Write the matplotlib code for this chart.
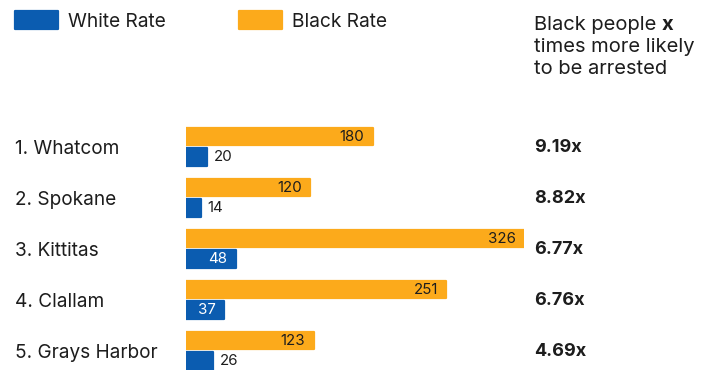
import matplotlib
matplotlib.use("Agg")
import matplotlib.pyplot as plt
from matplotlib.patches import Rectangle
from matplotlib.transforms import blended_transform_factory

plt.rcParams['font.family'] = ['Inter', 'DejaVu Sans']

counties = ['1. Whatcom', '2. Spokane', '3. Kittitas', '4. Clallam', '5. Grays Harbor']
black_rate = [180, 120, 326, 251, 123]
white_rate = [20, 14, 48, 37, 26]
ratio_labels = ['9.19x', '8.82x', '6.77x', '6.76x', '4.69x']

BLUE = '#0b5cb0'
ORANGE = '#fcaa1b'
DARK = '#1d1d1d'

W, H = 713, 370
fig = plt.figure(figsize=(W / 100, H / 100), dpi=100)

# bar area
ax = fig.add_axes([186 / W, 0, 338 / W, (H - 96) / H])
ax.set_xlim(0, 326)
ax.set_ylim((H - 147) / 51, -1)
ax.axis('off')

rows = list(range(len(counties)))
ax.barh([r - 0.205 for r in rows], black_rate, height=0.35, color=ORANGE,
        edgecolor=ORANGE, linewidth=1.6, joinstyle='round')
ax.barh([r + 0.2 for r in rows], white_rate, height=0.36, color=BLUE,
        edgecolor=BLUE, linewidth=1.6, joinstyle='round')

for r, v in zip(rows, black_rate):
    ax.annotate(str(v), (v, r - 0.205), xytext=(-6, 0), textcoords='offset points',
                ha='right', va='center', fontsize=10.8, color=DARK)

for r, v in zip(rows, white_rate):
    if v >= 30:
        ax.annotate(str(v), (v, r + 0.2), xytext=(-6, 0), textcoords='offset points',
                    ha='right', va='center', fontsize=10.8, color='white')
    else:
        ax.annotate(str(v), (v, r + 0.2), xytext=(5, 0), textcoords='offset points',
                    ha='left', va='center', fontsize=10.8, color=DARK)

tr = blended_transform_factory(fig.transFigure, ax.transData)
for r, name, lab in zip(rows, counties, ratio_labels):
    ax.text(15 / W, r + 0.135, name, transform=tr, ha='left', va='baseline',
            fontsize=13.7, color=DARK)
    ax.text(534 / W, r + 0.1, lab, transform=tr, ha='left', va='baseline',
            fontsize=13, fontweight='bold', color=DARK)

# legend
for x0, col, txt in [(15, BLUE, 'White Rate'), (239, ORANGE, 'Black Rate')]:
    fig.patches.append(Rectangle((x0 / W, (H - 29) / H), 43 / W, 18 / H,
                                 transform=fig.transFigure, facecolor=col,
                                 edgecolor=col, linewidth=1.6, joinstyle='round'))
    fig.text((x0 + 53) / W, (H - 27) / H, txt, ha='left', va='baseline',
             fontsize=13.8, color=DARK)

# note on the right
t1 = fig.text(534 / W, (H - 29.5) / H, 'Black people ', ha='left', va='baseline',
              fontsize=14.5, color=DARK)
fig.canvas.draw()
bb = t1.get_window_extent()
fig.text(bb.x1 / W, (H - 29.5) / H, 'x', ha='left', va='baseline', fontsize=14.5,
         fontweight='bold', color=DARK)
fig.text(534 / W, (H - 52) / H, 'times more likely', ha='left', va='baseline',
         fontsize=14.5, color=DARK)
fig.text(534 / W, (H - 74.5) / H, 'to be arrested', ha='left', va='baseline',
         fontsize=14.5, color=DARK)

fig.savefig('out.png', dpi=100)
